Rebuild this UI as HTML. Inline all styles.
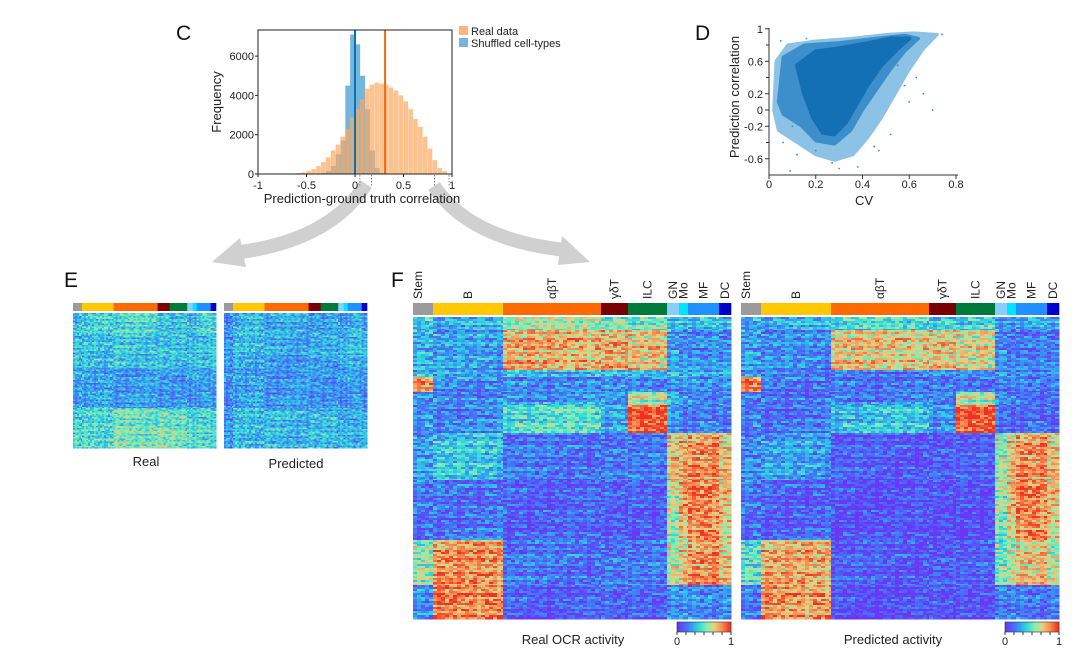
<!DOCTYPE html>
<html><head><meta charset="utf-8">
<style>
body{margin:0;background:#fff;}
svg{display:block;font-family:"Liberation Sans",sans-serif;}
</style></head>
<body>
<svg id="fig" width="1080" height="652" viewBox="0 0 1080 652" xmlns="http://www.w3.org/2000/svg">
<g id="arrows">
  <path d="M366 184 Q330 240 240 252" stroke="#d0d0d0" stroke-width="14" fill="none"/>
  <polygon points="240,238 212,262 246,267" fill="#d0d0d0"/>
  <path d="M434 186 Q470 240 566 250" stroke="#d0d0d0" stroke-width="14" fill="none"/>
  <polygon points="562,236 590,262 558,265" fill="#d0d0d0"/>
</g>
<g id="panelC"></g>
<g id="panelD"></g>
<g id="panelE"></g>
<g id="panelF"></g>
</svg>
<script>
const NS='http://www.w3.org/2000/svg';
// ---------- Panel C data ----------
const binStarts=[-0.6,-0.55,-0.5,-0.45,-0.4,-0.35,-0.3,-0.25,-0.2,-0.15,-0.1,-0.05,0,0.05,0.1,0.15,0.2,0.25,0.3,0.35,0.4,0.45,0.5,0.55,0.6,0.65,0.7,0.75,0.8,0.85,0.9];
const realCounts=[50,80,150,250,400,600,850,1200,1500,1900,2300,2900,3300,3800,4350,4550,4650,4600,4550,4400,4250,4000,3700,3300,2800,2400,1900,1300,700,300,150];
const shuffledCounts=[0,0,0,0,0,50,150,400,1000,1700,4500,7100,6600,5000,3300,1200,300,50,0,0,0,0,0,0,0,0,0,0,0,0,0];
const medianReal=0.31, medianShuffled=0.0;
const cXTicks=[-1,-0.5,0,0.5,1], cXLabels=['-1','-0.5','0','0.5','1'];
const cYTicks=[0,2000,4000,6000];
// ---------- Panel D data ----------
const dXTicks=[0,0.2,0.4,0.6,0.8];
const dYTicks=[1,0.6,0.2,0,-0.2,-0.6];
const dMinorY=[0.8,0.4,-0.4];
const outerCV=[0.02,0.03,0.08,0.2,0.35,0.5,0.62,0.72,0.66,0.6,0.55,0.48,0.42,0.36,0.28,0.2,0.12,0.04];
const outerCorr=[0.0,0.6,0.8,0.85,0.88,0.93,0.95,0.93,0.75,0.5,0.25,-0.1,-0.35,-0.55,-0.62,-0.55,-0.4,-0.25];
const midCV=[0.04,0.06,0.15,0.3,0.45,0.58,0.64,0.58,0.52,0.46,0.4,0.35,0.28,0.2,0.14,0.06];
const midCorr=[0.1,0.65,0.8,0.83,0.88,0.92,0.88,0.72,0.5,0.25,0.0,-0.25,-0.42,-0.38,-0.2,-0.05];
const coreCV=[0.12,0.2,0.3,0.42,0.52,0.6,0.56,0.48,0.42,0.37,0.33,0.28,0.23,0.19,0.15];
const coreCorr=[0.55,0.72,0.76,0.82,0.88,0.88,0.78,0.55,0.3,0.05,-0.15,-0.3,-0.28,-0.1,0.2];
const outCV=[0.09,0.12,0.06,0.05,0.45,0.52,0.6,0.7,0.66,0.63,0.47,0.38,0.3,0.27,0.16,0.55,0.58,0.1,0.74,0.2];
const outCorr=[-0.75,-0.55,-0.4,0.85,-0.45,-0.3,0.1,0.0,0.2,0.4,-0.5,-0.7,-0.72,-0.65,0.88,0.55,0.3,-0.2,0.93,-0.5];
// ---------- Heatmap data ----------
const groups=['Stem','B','αβT','γδT','ILC','GN','Mo','MF','DC'];
const groupWidths=[20,70,98,27,39,12,9,31,12];
const groupColors=['#9b9b9b','#ffc800','#ff6a00','#780000','#007a3a','#87cefa','#00e5ff','#1e90ff','#0000cd'];
const realFRowH=[13,40,7,15,13,28,47,60,45,34];
const realFVals=[[0.4,0.3,0.55,0.55,0.5,0.4,0.4,0.35,0.35],[0.3,0.25,0.75,0.75,0.7,0.25,0.2,0.2,0.2],[0.3,0.3,0.35,0.3,0.3,0.3,0.3,0.3,0.3],[0.8,0.2,0.2,0.2,0.2,0.2,0.2,0.2,0.2],[0.2,0.2,0.25,0.25,0.6,0.3,0.2,0.2,0.2],[0.25,0.2,0.45,0.3,0.95,0.3,0.2,0.2,0.2],[0.25,0.35,0.15,0.15,0.15,0.7,0.75,0.8,0.7],[0.15,0.15,0.1,0.1,0.1,0.6,0.75,0.85,0.7],[0.55,0.8,0.15,0.15,0.15,0.6,0.7,0.8,0.7],[0.2,0.85,0.1,0.1,0.1,0.2,0.2,0.2,0.2]];
const predFRowH=[13,40,7,15,13,28,47,60,45,34];
const predFVals=[[0.3,0.3,0.4,0.4,0.4,0.3,0.3,0.3,0.3],[0.25,0.2,0.7,0.7,0.65,0.2,0.15,0.15,0.15],[0.2,0.2,0.2,0.2,0.2,0.2,0.2,0.2,0.2],[0.85,0.15,0.15,0.15,0.15,0.15,0.15,0.15,0.15],[0.15,0.15,0.2,0.2,0.6,0.2,0.15,0.15,0.15],[0.2,0.15,0.35,0.25,0.95,0.2,0.15,0.15,0.15],[0.2,0.25,0.08,0.08,0.08,0.55,0.7,0.8,0.7],[0.15,0.1,0.05,0.05,0.05,0.55,0.7,0.85,0.7],[0.45,0.75,0.08,0.08,0.08,0.5,0.6,0.7,0.6],[0.15,0.8,0.05,0.05,0.05,0.15,0.15,0.15,0.15]];
const realERowH=[20,35,40,20,20];
const realEVals=[[0.35,0.4,0.42,0.38,0.35,0.35,0.35,0.42,0.42],[0.33,0.33,0.36,0.33,0.33,0.3,0.3,0.33,0.33],[0.28,0.28,0.25,0.25,0.25,0.25,0.28,0.28,0.28],[0.38,0.4,0.48,0.48,0.45,0.4,0.38,0.4,0.38],[0.42,0.42,0.52,0.52,0.5,0.42,0.38,0.42,0.38]];
const predERowH=[45,50,40];
const predEVals=[[0.22,0.32,0.28,0.28,0.28,0.28,0.28,0.32,0.28],[0.22,0.28,0.24,0.24,0.24,0.24,0.24,0.28,0.24],[0.22,0.32,0.32,0.32,0.32,0.28,0.28,0.28,0.28]];
const texture=[0,0.12,-0.1,0.05,-0.15,0.08,-0.05,0.16,-0.12,0.02,0.1];

function el(tag,attrs,parent,text){const e=document.createElementNS(NS,tag);for(const k in attrs)e.setAttribute(k,attrs[k]);if(text!==undefined)e.textContent=text;parent.appendChild(e);return e;}

// ---------- Panel C ----------
(function(){
const g=document.getElementById('panelC');
const x0=258,x1=452,yTop=30,yBase=174;
el('rect',{x:x0,y:yTop,width:x1-x0,height:yBase-yTop,fill:'#fff'},g);
const sx=v=>x0+(v+1)/2*(x1-x0);
const sy=v=>yBase-v*(39.3/2000);
for(let i=0;i<binStarts.length;i++){if(!shuffledCounts[i])continue;
 const r=el('rect',{x:sx(binStarts[i]),y:sy(shuffledCounts[i]),width:sx(binStarts[i]+0.05)-sx(binStarts[i])+0.3,height:yBase-sy(shuffledCounts[i]),fill:'#73b6dd'},g);
 
 }
for(let i=0;i<binStarts.length;i++){
 const r=el('rect',{x:sx(binStarts[i]),y:sy(realCounts[i]),width:sx(binStarts[i]+0.05)-sx(binStarts[i])-0.3,height:yBase-sy(realCounts[i]),fill:'#fda860','fill-opacity':'0.7'},g);
 
 }
let l=el('line',{x1:sx(medianShuffled),x2:sx(medianShuffled),y1:yTop,y2:yBase,stroke:'#0a72b0','stroke-width':2},g);

l=el('line',{x1:sx(medianReal),x2:sx(medianReal),y1:yTop,y2:yBase,stroke:'#f06a10','stroke-width':2},g);

const f=el('rect',{x:x0,y:yTop,width:x1-x0,height:yBase-yTop,fill:'none',stroke:'#222','stroke-width':1},g);

cYTicks.forEach(v=>{el('line',{x1:x0-3,x2:x0,y1:sy(v),y2:sy(v),stroke:'#222'},g);
 const t=el('text',{x:x0-4,y:sy(v)+4,'text-anchor':'end','font-size':11,fill:'#222'},g,String(v));
 });
cXTicks.forEach((v,i)=>{el('line',{x1:sx(v),x2:sx(v),y1:yBase,y2:yBase+3,stroke:'#222'},g);
 const t=el('text',{x:sx(v),y:yBase+15,'text-anchor':'middle','font-size':11,fill:'#222'},g,cXLabels[i]);
 });
[0.05,0.17,0.82,0.97].forEach(v=>el('line',{x1:sx(v),x2:sx(v),y1:yBase+1,y2:yBase+12,stroke:'#888','stroke-dasharray':'1.5,1.5'},g));
let t=el('text',{x:362,y:203,'text-anchor':'middle','font-size':13,fill:'#222'},g,'Prediction-ground truth correlation');

t=el('text',{x:0,y:0,transform:'translate(221,102) rotate(-90)','text-anchor':'middle','font-size':13,fill:'#222'},g,'Frequency');

t=el('text',{x:176,y:40,'font-size':21,fill:'#111'},g,'C');

let r=el('rect',{x:459,y:26,width:9,height:9,fill:'#fdb47a'},g);
r=el('rect',{x:459,y:38,width:9,height:9,fill:'#73b6dd'},g);
t=el('text',{x:471,y:35,'font-size':11,fill:'#222'},g,'Real data');
t=el('text',{x:471,y:47,'font-size':11,fill:'#222'},g,'Shuffled cell-types');
})();

// ---------- Panel D ----------
(function(){
const g=document.getElementById('panelD');
const sx=v=>769+v/0.8*(956-769);
const sy=v=>110-v*81.25;
const poly=(xs,ys)=>xs.map((x,i)=>sx(x)+','+sy(ys[i])).join(' ');
let p=el('polygon',{points:poly(outerCV,outerCorr),fill:'#8cc2e6','stroke':'#8cc2e6','stroke-width':3,'stroke-linejoin':'round'},g);

p=el('polygon',{points:poly(midCV,midCorr),fill:'#3c8fcb','stroke':'#3c8fcb','stroke-width':3,'stroke-linejoin':'round'},g);

p=el('polygon',{points:poly(coreCV,coreCorr),fill:'#1470b5','stroke':'#1470b5','stroke-width':4,'stroke-linejoin':'round'},g);

outCV.forEach((x,i)=>{const c=el('circle',{cx:sx(x),cy:sy(outCorr[i]),r:0.9,fill:'#3b8ccc'},g);
 });
el('line',{x1:769,x2:769,y1:28,y2:175,stroke:'#333'},g);
el('line',{x1:769,x2:958,y1:175,y2:175,stroke:'#333'},g);
dYTicks.forEach(v=>{el('line',{x1:765,x2:769,y1:sy(v),y2:sy(v),stroke:'#333'},g);
 const t=el('text',{x:763,y:sy(v)+4,'text-anchor':'end','font-size':11,fill:'#222'},g,String(v));
 });
dMinorY.forEach(v=>el('line',{x1:766,x2:769,y1:sy(v),y2:sy(v),stroke:'#333'},g));
dXTicks.forEach(v=>{el('line',{x1:sx(v),x2:sx(v),y1:175,y2:179,stroke:'#333'},g);
 const t=el('text',{x:sx(v),y:188,'text-anchor':'middle','font-size':11,fill:'#222'},g,String(v));
 });
let t=el('text',{x:864,y:205,'text-anchor':'middle','font-size':13,fill:'#222'},g,'CV');

t=el('text',{x:0,y:0,transform:'translate(739,97) rotate(-90)','text-anchor':'middle','font-size':13,fill:'#222'},g,'Prediction correlation');

t=el('text',{x:695,y:40,'font-size':21,fill:'#111'},g,'D');

})();

// ---------- Heatmaps ----------
const stops=[[0,[106,53,245]],[0.2,[63,126,247]],[0.4,[42,216,224]],[0.55,[127,240,176]],[0.7,[232,208,128]],[0.85,[248,136,80]],[1,[240,48,32]]];
function cmap(v){v=Math.max(0,Math.min(1,v));for(let i=1;i<stops.length;i++){if(v<=stops[i][0]){const a=stops[i-1],b=stops[i],t=(v-a[0])/(b[0]-a[0]);return 'rgb('+a[1].map((c,k)=>Math.round(c+(b[1][k]-c)*t)).join(',')+')';}}return 'rgb(240,48,32)';}
function heatmap(g,x0,yStrip,stripH,yTop,w,h,rowH,vals,cw,ch,name){
 const tot=groupWidths.reduce((a,b)=>a+b,0);
 const gx=[x0];groupWidths.forEach(v=>gx.push(gx[gx.length-1]+v/tot*w));
 groups.forEach((n,i)=>{const r=el('rect',{x:gx[i],y:yStrip,width:gx[i+1]-gx[i]+0.3,height:stripH,fill:groupColors[i]},g);
  });
 const hg=el('g',{'shape-rendering':'crispEdges'},g);
 const rtot=rowH.reduce((a,b)=>a+b,0);
 let y=yTop,r=0;
 rowH.forEach((rh,bi)=>{const yEnd=y+rh/rtot*h;
  for(let yy=y;yy<yEnd-0.01;yy+=ch){const hh=Math.min(ch,yEnd-yy);r++;
   for(let gi=0;gi<groups.length;gi++){let c=0;
    for(let xx=gx[gi];xx<gx[gi+1]-0.01;xx+=cw){const ww=Math.min(cw,gx[gi+1]-xx);c++;
     const v=vals[bi][gi]+texture[(r*7+c*3+(r*c)%5)%11]+0.6*texture[(r*5+gi)%11];
     const cell=el('rect',{x:xx,y:yy,width:ww+0.3,height:hh+0.3,fill:cmap(v)},hg);
     
     }}}
  y=yEnd;});
}
function colorbar(g,x,y,w,h){
 const n=40;for(let i=0;i<n;i++)el('rect',{x:x+i*w/n,y:y,width:w/n+0.3,height:h,fill:cmap(i/(n-1))},g);
 el('rect',{x:x,y:y,width:w,height:h,fill:'none',stroke:'#333','stroke-width':0.6},g);
 for(let i=0;i<=6;i++)el('line',{x1:x+i*w/6,x2:x+i*w/6,y1:y+h,y2:y+h+3,stroke:'#333'},g);
 let t=el('text',{x:x,y:y+h+13,'text-anchor':'middle','font-size':11,fill:'#222'},g,'0');
 t=el('text',{x:x+w,y:y+h+13,'text-anchor':'middle','font-size':11,fill:'#222'},g,'1');
}
(function(){
const g=document.getElementById('panelE');
let t=el('text',{x:64,y:287,'font-size':21,fill:'#111'},g,'E');
heatmap(g,73,303,8,313,143,135,realERowH,realEVals,2,1.5,'real-heatmap-small');
heatmap(g,224,303,8,313,143,135,predERowH,predEVals,2,1.5,'predicted-heatmap-small');
t=el('text',{x:146,y:466,'text-anchor':'middle','font-size':13,fill:'#222'},g,'Real');
t=el('text',{x:296,y:468,'text-anchor':'middle','font-size':13,fill:'#222'},g,'Predicted');
})();
(function(){
const g=document.getElementById('panelF');
let t=el('text',{x:391,y:287,'font-size':21,fill:'#111'},g,'F');
const offs=[413,741];
const tot=groupWidths.reduce((a,b)=>a+b,0);
offs.forEach((x0,k)=>{
 heatmap(g,x0,303,12,317,318,302,k?predFRowH:realFRowH,k?predFVals:realFVals,4,2,k?'predicted-heatmap':'real-heatmap');
 let cx=x0;
 groups.forEach((n,i)=>{const w=groupWidths[i]/tot*318;const mx=cx+w/2+4;cx+=w;
  const lx=(n==='Stem')?x0+9:mx;
  const tt=el('text',{x:0,y:0,transform:'translate('+lx+',299) rotate(-90)','font-size':12,fill:'#222'},g,n);
  });
 colorbar(g,x0+264,622,54,10);
});
t=el('text',{x:573,y:644,'text-anchor':'middle','font-size':13,fill:'#222'},g,'Real OCR activity');
t=el('text',{x:893,y:644,'text-anchor':'middle','font-size':13,fill:'#222'},g,'Predicted activity');
})();
</script>
</body></html>
